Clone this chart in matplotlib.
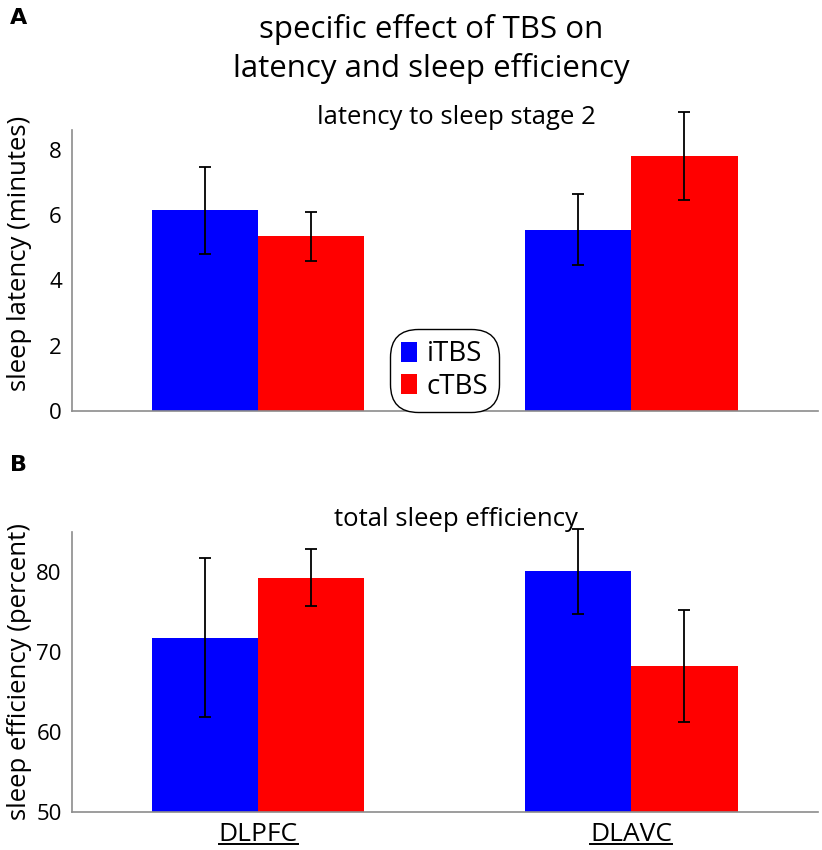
import matplotlib.pyplot as plt
from matplotlib.lines import Line2D
import numpy as np

plt.rcParams['font.family'] = ['Open Sans', 'DejaVu Sans']

# data
sites = ["DLPFC", "DLAVC"]
conditions = ["iTBS", "cTBS"]
colors = ["#0000ff", "#ff0000"]

latency_mean = [[6.15, 5.55], [5.35, 7.8]]   # [iTBS, cTBS] per site
latency_err = [[1.33, 1.09], [0.75, 1.34]]

eff_mean = [[71.8, 80.1], [79.3, 68.2]]
eff_err = [[9.9, 5.3], [3.6, 7.0]]

fig = plt.figure(figsize=(8.22, 8.5), dpi=100)
ax1 = fig.add_axes([0.087, 0.5165, 0.908, 0.3305])
ax2 = fig.add_axes([0.087, 0.0447, 0.908, 0.3295])

x = np.arange(1, len(sites) + 1)
w = 0.285


def draw(ax, means, errs):
    for i, cond in enumerate(conditions):
        pos = x + (i - 0.5) * w
        ax.bar(pos, means[i], width=w, color=colors[i], label=cond, zorder=2)
        ax.errorbar(pos, means[i], yerr=errs[i], fmt="none", ecolor="black",
                    elinewidth=1.3, capsize=4.5, capthick=1.3, zorder=3, clip_on=False)
    for s in ["top", "right"]:
        ax.spines[s].set_visible(False)
    for s in ["left", "bottom"]:
        ax.spines[s].set_color("#8c8c8c")
        ax.spines[s].set_linewidth(1.2)
    ax.tick_params(axis="y", length=0, labelsize=16, pad=7)
    ax.tick_params(axis="x", length=0)
    ax.set_xlim(0.5, 2.5)


draw(ax1, latency_mean, latency_err)
ax1.set_ylim(0, 8.6)
ax1.set_yticks([0, 2, 4, 6, 8])
ax1.set_xticks([])
ax1.set_ylabel("sleep latency (minutes)", fontsize=18.5)
ax1.yaxis.set_label_coords(-0.053, 0.56)
ax1.set_title("latency to sleep stage 2", fontsize=18.5, x=0.515, pad=4)
leg = ax1.legend(loc="lower center", bbox_to_anchor=(0.5, 0.012), fontsize=20,
                 handlelength=0.55, handleheight=0.75, handletextpad=0.35,
                 borderpad=0.15, labelspacing=0.15, borderaxespad=0.1,
                 fancybox=True, edgecolor="black", framealpha=1)
leg.get_frame().set_boxstyle("round", pad=0.25, rounding_size=1.0)
leg.get_frame().set_linewidth(1.0)

draw(ax2, eff_mean, eff_err)
ax2.set_ylim(50, 85)
ax2.set_yticks([50, 60, 70, 80])
ax2.set_xticks(x)
ax2.set_xticklabels(sites, fontsize=19)
ax2.tick_params(axis="x", pad=7)
ax2.set_ylabel("sleep efficiency (percent)", fontsize=18.5)
ax2.yaxis.set_label_coords(-0.053, 0.5)
ax2.set_title("total sleep efficiency", fontsize=18.5, x=0.515, pad=4)

fig.text(0.525, 0.984, "specific effect of TBS on\nlatency and sleep efficiency",
         ha="center", va="top", fontsize=22.5, linespacing=1.35)
fig.text(0.012, 0.99, "A", fontsize=16, fontweight="bold", va="top",
         family="DejaVu Sans")
fig.text(0.012, 0.465, "B", fontsize=16, fontweight="bold", va="top",
         family="DejaVu Sans")

# underline the site labels
fig.canvas.draw()
r = fig.canvas.get_renderer()
inv = fig.transFigure.inverted()
for lab in ax2.get_xticklabels():
    bb = lab.get_window_extent(r)
    (x0, y0), (x1, _) = inv.transform([[bb.x0, bb.y0 + 3], [bb.x1, bb.y0]])
    fig.add_artist(Line2D([x0, x1], [y0, y0], color="black", lw=1.4,
                          transform=fig.transFigure))

plt.savefig("out.png", dpi=100)
